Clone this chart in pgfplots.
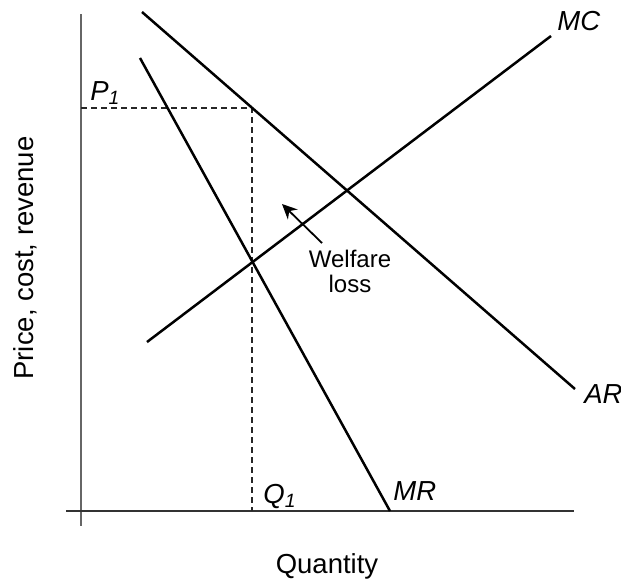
\documentclass[border=0pt]{standalone}
\usepackage{pgfplots}
\pgfplotsset{compat=1.18}
\usepackage{fontspec}
\setmainfont{Liberation Sans}
\usetikzlibrary{arrows.meta}
\begin{document}
\begin{tikzpicture}
\begin{axis}[
  name=ax,
  width=310.5pt, height=291.5pt, scale only axis,
  xmin=0, xmax=621, ymin=0, ymax=583, y dir=reverse,
  hide axis, clip=false,
]
\coordinate (sw) at (axis cs:0,583);
\coordinate (ne) at (axis cs:621,0);
% axes
\addplot[draw=black!60, line width=1pt] coordinates {(81,14) (81,526)};
\addplot[draw=black!80, line width=1pt] coordinates {(66,511) (574,511)};
% dashed guides
\addplot[draw=black!85, line width=0.75pt, dash pattern=on 3pt off 2pt] coordinates {(81,108) (252,108) (252,511)};
% AR
\addplot[draw=black, line width=1.25pt] coordinates {(142,12) (575,389)};
% MR
\addplot[draw=black, line width=1.25pt] coordinates {(140,58) (390,511)};
% MC
\addplot[draw=black, line width=1.25pt] coordinates {(147,342) (551,36)};
% arrow
\draw[line width=0.9pt, -{Stealth[length=7.5pt,width=7pt]}] (axis cs:322,243) -- (axis cs:282,204);
% labels
\node[anchor=base west, font=\fontsize{13.75}{16}\selectfont\itshape, inner sep=0pt] at (axis cs:90,100) {P\textsubscript{1}};
\node[anchor=base west, font=\fontsize{13.75}{16}\selectfont\itshape, inner sep=0pt] at (axis cs:263,503) {Q\textsubscript{1}};
\node[anchor=base west, font=\fontsize{13.75}{16}\selectfont\itshape, inner sep=0pt] at (axis cs:393,500) {MR};
\node[anchor=base west, font=\fontsize{13.75}{16}\selectfont\itshape, inner sep=0pt] at (axis cs:557,30) {MC};
\node[anchor=base west, font=\fontsize{13.75}{16}\selectfont\itshape, inner sep=0pt] at (axis cs:584,403) {AR};
\node[anchor=base, font=\fontsize{12}{14}\selectfont, inner sep=0pt] at (axis cs:350,267) {Welfare};
\node[anchor=base, font=\fontsize{12}{14}\selectfont, inner sep=0pt] at (axis cs:350,292) {loss};
\node[anchor=base, font=\fontsize{13.75}{16}\selectfont, inner sep=0pt] at (axis cs:327,573) {Quantity};
\node[anchor=base, rotate=90, font=\fontsize{13.75}{16}\selectfont, inner sep=0pt] at (axis cs:33,258) {Price, cost, revenue};
\end{axis}
\pgfresetboundingbox
\path (sw) rectangle (ne);
\end{tikzpicture}
\end{document}
